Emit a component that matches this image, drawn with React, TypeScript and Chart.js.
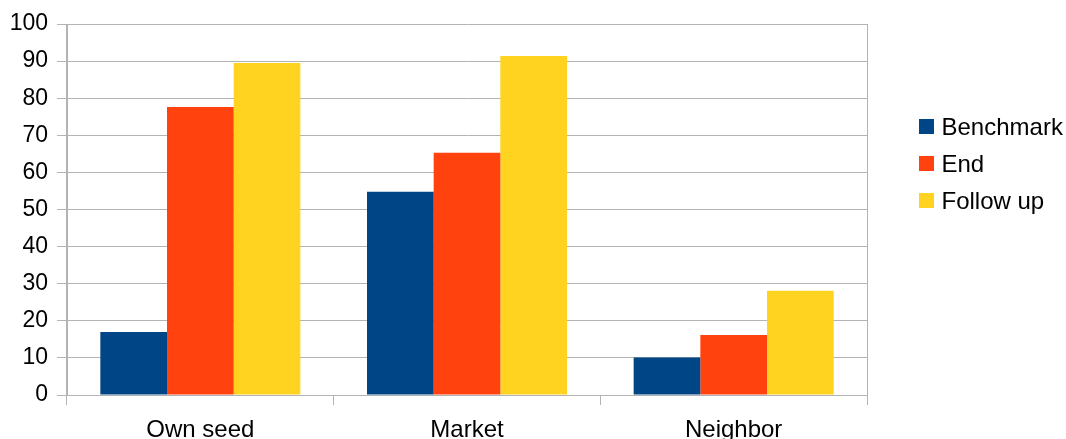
import React, { useEffect, useRef } from "react";
import { Chart, registerables } from "chart.js";

Chart.register(...registerables);

const categories = ["Own seed", "Market", "Neighbor"];
const seriesNames = ["Benchmark", "End", "Follow up"];
const benchmark = [17.0, 54.8, 10.1];
const endValues = [77.6, 65.3, 16.2];
const followUp = [89.5, 91.4, 28.1];
const yTicks = [0, 10, 20, 30, 40, 50, 60, 70, 80, 90, 100];
const colors = ["#004586", "#ff420e", "#ffd320"];

const GRID = "#b3b3b3";
const FONT = "'Liberation Sans', Arial, sans-serif";

export default function App() {
  const ref = useRef<HTMLCanvasElement | null>(null);

  useEffect(() => {
    const canvas = ref.current;
    if (!canvas) return;
    const seriesData = [benchmark, endValues, followUp];
    const chart = new Chart(canvas, {
      type: "bar",
      data: {
        labels: categories,
        datasets: seriesNames.map((name, i) => ({
          label: name,
          data: seriesData[i],
          backgroundColor: colors[i],
          borderWidth: 0,
          categoryPercentage: 0.75,
          barPercentage: 1,
        })),
      },
      options: {
        responsive: false,
        animation: false,
        devicePixelRatio: 1,
        layout: { padding: { top: 24, right: 199, left: 0, bottom: 0 } },
        plugins: {
          legend: { display: false },
          tooltip: { enabled: false },
        },
        scales: {
          x: {
            offset: true,
            grid: {
              offset: true,
              drawOnChartArea: true,
              color: (ctx: any) =>
                ctx.index === 0 || ctx.index === undefined ? GRID : "rgba(0,0,0,0)",
              tickColor: GRID,
              tickLength: 10,
              lineWidth: 1,
            },
            border: { display: true, color: GRID },
            ticks: {
              color: "#000",
              font: { family: FONT, size: 24 },
              padding: 11,
              maxRotation: 0,
            },
            afterFit: (scale: any) => {
              scale.height = 44;
            },
          },
          y: {
            min: 0,
            max: 100,
            afterBuildTicks: (scale: any) => {
              scale.ticks = yTicks.map((v) => ({ value: v }));
            },
            grid: { color: GRID, tickColor: GRID, tickLength: 10 },
            border: { display: true, color: GRID },
            ticks: {
              color: "#000",
              font: { family: FONT, size: 23 },
              padding: 9,
            },
            afterFit: (scale: any) => {
              scale.width = 67;
            },
          },
        },
      },
    });
    return () => chart.destroy();
  }, []);

  return (
    <div
      style={{
        position: "fixed",
        left: 0,
        top: 0,
        width: 1066,
        height: 439,
        background: "#fff",
        overflow: "hidden",
      }}
    >
      <canvas ref={ref} width={1066} height={439} style={{ display: "block" }} />
      <div
        style={{
          position: "absolute",
          left: 919,
          top: 108,
          fontFamily: FONT,
          fontSize: 24,
          color: "#000",
        }}
      >
        {seriesNames.map((name, i) => (
          <div
            key={name}
            style={{ display: "flex", alignItems: "center", height: 37.2, whiteSpace: "nowrap" }}
          >
            <span
              style={{
                display: "inline-block",
                width: 15,
                height: 15,
                background: colors[i],
                marginRight: 7.5,
              }}
            />
            <span style={{ lineHeight: 1 }}>{name}</span>
          </div>
        ))}
      </div>
    </div>
  );
}
